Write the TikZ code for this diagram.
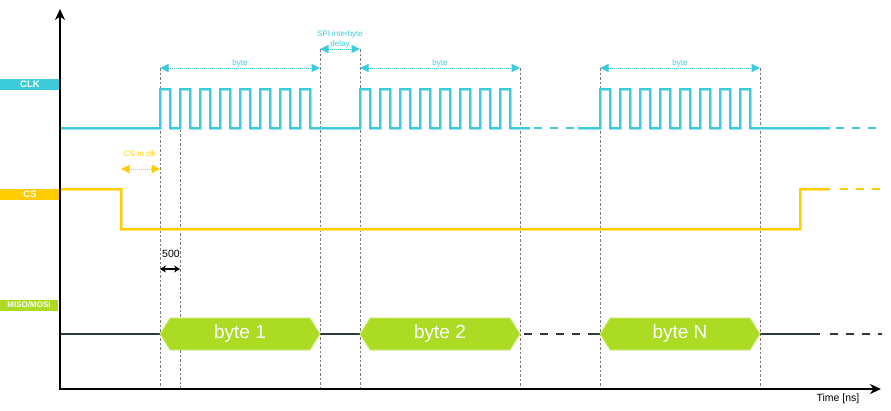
\documentclass[tikz,border=0pt]{standalone}
\usepackage{fontspec}
\setmainfont{Liberation Sans}
\usetikzlibrary{arrows.meta}
\definecolor{clkc}{HTML}{3CCBDA}
\definecolor{clkl}{HTML}{9FE6EC}
\definecolor{csc}{HTML}{FFCC00}
\definecolor{csl}{HTML}{FFE680}
\definecolor{grn}{HTML}{ABDB22}
\definecolor{grnl}{HTML}{CDEB80}
\definecolor{dark}{HTML}{2E3A40}
\definecolor{vgray}{HTML}{7A7A7A}
\tikzset{
  clkline/.style={draw=clkc, line width=1.6pt, preaction={draw=clkl, line width=3pt}},
  clkdash/.style={draw=clkc, line width=2pt, dash pattern=on 8pt off 8pt},
  csline/.style={draw=csc, line width=1.6pt, preaction={draw=csl, line width=3pt}},
  csdash/.style={draw=csc, line width=2pt, dash pattern=on 8pt off 8pt},
  dataline/.style={draw=dark, line width=1.5pt},
  guide/.style={draw=vgray, line width=0.6pt, dash pattern=on 2.5pt off 2pt},
  lbox/.style={inner sep=0pt, minimum height=11pt, text=white, font=\fontsize{9.5}{10}\selectfont\bfseries},
  hexa/.style={fill=grn, draw=grnl, line width=0.8pt},
  bytetxt/.style={text=white, font=\fontsize{19}{20}\selectfont},
  cyarrow/.style={draw=clkc, line width=0.8pt, dash pattern=on 1pt off 1pt, {Triangle[length=8.5pt,width=8pt,fill=clkc]}-{Triangle[length=8.5pt,width=8pt,fill=clkc]}},
  ysarrow/.style={draw=csc, line width=0.8pt, dash pattern=on 1pt off 1pt, {Triangle[length=8.5pt,width=8pt,fill=csc]}-{Triangle[length=8.5pt,width=8pt,fill=csc]}},
  smalltxt/.style={font=\fontsize{8}{9}\selectfont, inner sep=0pt, align=center},
  axis/.style={draw=black, line width=1.8pt}
}
\begin{document}
\begin{tikzpicture}[x=1pt,y=-1pt]
\useasboundingbox (0,0) rectangle (891,410);
% guide lines
\foreach \x/\t in {160/68,180/89,320/49,360/49,520/68,600/68,760/68}
  \draw[guide] (\x,\t) -- (\x,389);
% labels
\fill[clkc] (0,79) rectangle (60,90);
\node[lbox] (clk) at (30,84.5) {CLK};
\fill[csc] (0,189) rectangle (60,200);
\node[lbox] (cs) at (30,194.5) {CS};
\fill[grn] (0,299.5) rectangle (58,310.5);
\node[lbox, font=\fontsize{8}{9}\selectfont\bfseries] (miso) at (29,305) {MISO/MOSI};
% CLK signal
\draw[clkline] (60,128) -- (160,128)
  \foreach \i in {1,...,8}{ -- ++(0,-39) -- ++(10,0) -- ++(0,39) -- ++(10,0)} -- (360,128)
  \foreach \i in {1,...,8}{ -- ++(0,-39) -- ++(10,0) -- ++(0,39) -- ++(10,0)} -- (530,128);
\draw[clkdash] (534,128) -- (576,128);
\draw[clkline] (578,128) -- (600,128)
  \foreach \i in {1,...,8}{ -- ++(0,-39) -- ++(10,0) -- ++(0,39) -- ++(10,0)} -- (830,128);
\draw[clkdash] (836,128) -- (882,128);
% CS signal
\draw[csline] (60,189) -- (121,189) -- (121,229) -- (800,229) -- (800,189) -- (830,189);
\draw[csdash] (840,189) -- (882,189);
% data line
\draw[dataline] (60,334) -- (160,334) (320,334) -- (360,334);
\draw[dataline, dash pattern=on 8pt off 8pt] (524,334) -- (592,334);
\draw[dataline] (592,334) -- (600,334) (760,334) -- (820,334);
\draw[dataline, dash pattern=on 8pt off 8pt] (830,334) -- (882,334);
% hexagons
\foreach \a/\n/\t in {160/b1/byte 1,360/b2/byte 2,600/bn/byte N}{
  \draw[hexa] (\a,334) -- ++(10,-16) -- ++(140,0) -- ++(10,16) -- ++(-10,16) -- ++(-140,0) -- cycle;
  \node[bytetxt] (\n) at (\a+80,334) {\t};
}
% byte arrows
\foreach \a/\n in {160/ba1,360/ba2,600/ba3}{
  \coordinate (\n l) at (\a,68);
  \coordinate (\n r) at (\a+160,68);
  \draw[cyarrow] (\n l) -- (\n r);
  \node[smalltxt, text=clkc] (\n t) at (\a+80,63.5) {byte};
}
\coordinate (dl) at (320,49);
\coordinate (dr) at (360,49);
\draw[cyarrow] (dl) -- (dr);
\node[smalltxt, text=clkc, font=\fontsize{8}{10.5}\selectfont] (spi) at (340,39.5) {SPI interbyte\\delay};
% CS to clk
\coordinate (cl) at (121,169);
\coordinate (cr) at (160,169);
\draw[ysarrow] (cl) -- (cr);
\node[smalltxt, text=csc] (cst) at (140,154) {CS to clk};
% 500
\coordinate (fl) at (160,269);
\coordinate (fr) at (180,269);
\draw[line width=1.4pt, {Stealth[length=6pt,width=7pt]}-{Stealth[length=6pt,width=7pt]}] (fl) -- (fr);
\node[font=\fontsize{10.5}{11}\selectfont, inner sep=0pt] (five) at (171,254) {500};
% axes
\coordinate (o) at (60,389);
\coordinate (ytop) at (60,9);
\coordinate (xend) at (881,389);
\draw[axis, -{Stealth[length=11pt,width=10pt]}] (60,390) -- (ytop);
\draw[axis, -{Stealth[length=11pt,width=10pt]}] (59,389) -- (xend);
\node[font=\fontsize{10.5}{12}\selectfont, inner sep=0pt] (time) at (838,398.5) {Time [ns]};
\end{tikzpicture}
\end{document}
